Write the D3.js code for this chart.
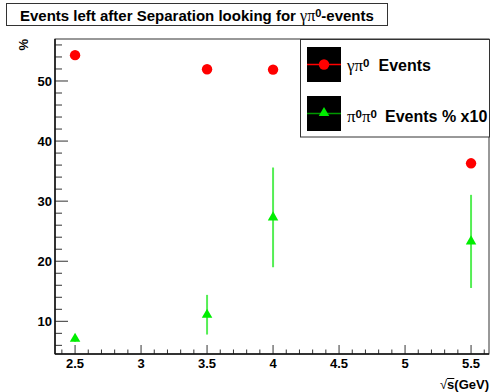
<!DOCTYPE html>
<html><head><meta charset="utf-8">
<script src="https://cdn.jsdelivr.net/npm/d3@7"></script>
<style>body{margin:0;background:#fff}svg{display:block}</style>
</head><body><svg id="c" width="490" height="392"></svg>
<script>
const energies = [2.5, 3.5, 4.0, 5.5];
const gammaPi0 = [54.3, 51.95, 51.9, 36.3];
const pi0pi0 = [7.1, 11.1, 27.3, 23.3];
const pi0pi0Err = [0.5, 3.3, 8.3, 7.75];
const xTicks = [2.5, 3, 3.5, 4, 4.5, 5, 5.5];
const yTicks = [10, 20, 30, 40, 50];

const svg = d3.select("#c");
const F = "'Liberation Sans', Arial, Helvetica, sans-serif";
const FS = "'Liberation Serif', 'Times New Roman', serif";
const L = 55, R = 489, T = 39, B = 354;
const x = d3.scaleLinear().domain([2.348, 5.636]).range([L, R]);
const y = d3.scaleLinear().domain([4.56, 56.99]).range([B, T]);

// frame
svg.append("rect").attr("x", L).attr("y", T).attr("width", R - L).attr("height", B - T)
  .attr("fill", "none").attr("stroke", "#333").attr("stroke-width", 1);

// x axis ticks
const xMinor = d3.range(24, 57).map(d => d / 10).filter(v => v >= 2.35 && v <= 5.63);
const gx = svg.append("g");
xMinor.forEach(v => {
  const major = Math.abs(v * 2 - Math.round(v * 2)) < 1e-6;
  gx.append("line").attr("x1", x(v)).attr("x2", x(v)).attr("y1", B).attr("y2", B - (major ? 9 : 4.5))
    .attr("stroke", "#333").attr("stroke-width", 1);
});
xTicks.forEach(v => {
  gx.append("text").attr("x", x(v)).attr("y", 368).attr("text-anchor", "middle")
    .attr("font-family", F).attr("font-weight", "bold").attr("font-size", 13).text(String(v));
});
// y axis ticks
const gy = svg.append("g");
d3.range(6, 57, 2).forEach(v => {
  const major = v % 10 === 0;
  gy.append("line").attr("x1", L).attr("x2", L + (major ? 13 : 7)).attr("y1", y(v)).attr("y2", y(v))
    .attr("stroke", "#333").attr("stroke-width", 1);
});
yTicks.forEach(v => {
  gy.append("text").attr("x", 52).attr("y", y(v)).attr("dy", "0.36em").attr("text-anchor", "end")
    .attr("font-family", F).attr("font-weight", "bold").attr("font-size", 13).text(String(v));
});
// axis lines
svg.append("line").attr("x1", L).attr("x2", R).attr("y1", B).attr("y2", B).attr("stroke", "#111").attr("stroke-width", 1.5);
svg.append("line").attr("x1", L).attr("x2", L).attr("y1", T).attr("y2", B).attr("stroke", "#111").attr("stroke-width", 1.5);

// axis titles
svg.append("text").attr("transform", "translate(28,39) rotate(-90)").attr("text-anchor", "end")
  .attr("font-family", F).attr("font-weight", "bold").attr("font-size", 13).text("%");
const xt = svg.append("text").attr("x", 489).attr("y", 389).attr("text-anchor", "end")
  .attr("font-family", F).attr("font-weight", "bold").attr("font-size", 13);
xt.append("tspan").attr("font-weight", "normal").text("√");
xt.append("tspan").text("s");
xt.append("tspan").text("(GeV)");
{
  const n = xt.node();
  const st = n.getStartPositionOfChar(1), en = n.getEndPositionOfChar(1);
  svg.append("line").attr("x1", st.x).attr("x2", en.x).attr("y1", 378.5).attr("y2", 378.5)
    .attr("stroke", "#000").attr("stroke-width", 1);
}

// green error bars + triangles
const tri = d3.symbol().type(d3.symbolTriangle).size(48);
energies.forEach((e, i) => {
  svg.append("line").attr("x1", x(e)).attr("x2", x(e))
    .attr("y1", y(pi0pi0[i] - pi0pi0Err[i])).attr("y2", y(pi0pi0[i] + pi0pi0Err[i]))
    .attr("stroke", "#55ee55").attr("stroke-width", 2);
});
energies.forEach((e, i) => {
  svg.append("path").attr("d", tri).attr("transform", `translate(${x(e)},${y(pi0pi0[i])})`).attr("fill", "#00ee00");
});
energies.forEach((e, i) => {
  svg.append("circle").attr("cx", x(e)).attr("cy", y(gammaPi0[i])).attr("r", 5.2).attr("fill", "#ff0000");
});

// legend
svg.append("rect").attr("x", 300.5).attr("y", 39.5).attr("width", 189).attr("height", 97.5)
  .attr("fill", "#fff").attr("stroke", "#333").attr("stroke-width", 1);
const lg = svg.append("g");
// entry 1
lg.append("rect").attr("x", 307).attr("y", 47).attr("width", 34).attr("height", 35).attr("fill", "#000");
lg.append("line").attr("x1", 307).attr("x2", 341).attr("y1", 64.5).attr("y2", 64.5).attr("stroke", "#ff0000").attr("stroke-width", 1.5);
lg.append("circle").attr("cx", 324).attr("cy", 64.5).attr("r", 5.2).attr("fill", "#ff0000");
const t1 = lg.append("text").attr("x", 347).attr("y", 70.5).attr("font-family", F).attr("font-weight", "bold").attr("font-size", 16);
t1.append("tspan").attr("font-family", FS).attr("font-weight", "normal").attr("font-size", 17).text("γπ");
t1.append("tspan").attr("font-size", 11.5).attr("dy", -4).text("0");
t1.append("tspan").attr("dy", 4).attr("dx", 9).text("Events");
// entry 2
lg.append("rect").attr("x", 307).attr("y", 96).attr("width", 34).attr("height", 35).attr("fill", "#000");
lg.append("line").attr("x1", 307).attr("x2", 341).attr("y1", 113.5).attr("y2", 113.5).attr("stroke", "#009900").attr("stroke-width", 1.5);
lg.append("path").attr("d", tri).attr("transform", "translate(324,113)").attr("fill", "#00ee00");
const t2 = lg.append("text").attr("x", 347).attr("y", 121.5).attr("font-family", F).attr("font-weight", "bold").attr("font-size", 16);
t2.append("tspan").attr("font-family", FS).attr("font-weight", "normal").attr("font-size", 17).text("π");
t2.append("tspan").attr("font-size", 11.5).attr("dy", -4).text("0");
t2.append("tspan").attr("font-family", FS).attr("font-weight", "normal").attr("font-size", 17).attr("dy", 4).text("π");
t2.append("tspan").attr("font-size", 11.5).attr("dy", -4).text("0");
t2.append("tspan").attr("dy", 4).attr("dx", 8).text("Events % x10");

// title
svg.append("rect").attr("x", 6.5).attr("y", 3.5).attr("width", 381).attr("height", 22)
  .attr("fill", "#fff").attr("stroke", "#333").attr("stroke-width", 1);
const tt = svg.append("text").attr("x", 20).attr("y", 20.5).attr("font-family", F).attr("font-weight", "bold").attr("font-size", 15);
tt.append("tspan").text("Events left after Separation looking for ");
tt.append("tspan").attr("font-family", FS).attr("font-weight", "normal").attr("font-size", 16).text("γπ");
tt.append("tspan").attr("font-size", 11).attr("dy", -4).text("0");
tt.append("tspan").attr("dy", 4).text("-events");
</script></body></html>
